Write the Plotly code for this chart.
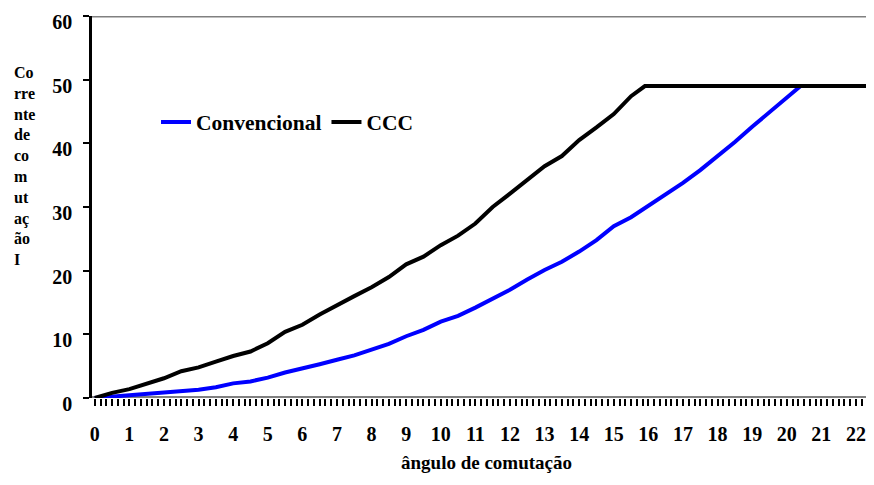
import plotly.graph_objects as go

# Data
x_conv = [0, 0.5, 1, 1.5, 2, 2.5, 3, 3.5, 4, 4.5, 5, 5.5, 6, 6.5, 7, 7.5, 8, 8.5, 9, 9.5,
          10, 10.5, 11, 11.5, 12, 12.5, 13, 13.5, 14, 14.5, 15, 15.5, 16, 16.5, 17, 17.5,
          18, 18.5, 19, 19.5, 20, 20.4, 21, 22, 22.4]
y_conv = [0, 0.2, 0.5, 0.7, 0.9, 1.0, 1.3, 1.7, 2.3, 2.6, 3.2, 4.0, 4.6, 5.3, 6.0, 6.7, 7.6, 8.5, 9.7, 10.7,
          12.0, 12.9, 14.2, 15.6, 17.0, 18.6, 20.1, 21.4, 23.0, 24.8, 27.0, 28.4, 30.2, 32.1, 33.8, 35.8,
          38.0, 40.2, 42.6, 44.9, 47.0, 49.0, 49.0, 49.0, 49.0]

x_ccc = [0, 0.5, 1, 1.5, 2, 2.5, 3, 3.5, 4, 4.5, 5, 5.5, 6, 6.5, 7, 7.5, 8, 8.5, 9, 9.5,
         10, 10.5, 11, 11.5, 12, 12.5, 13, 13.5, 14, 14.5, 15, 15.5, 15.9, 17, 18, 19, 20, 21, 22, 22.4]
y_ccc = [0, 0.8, 1.4, 2.3, 3.1, 4.2, 4.8, 5.7, 6.6, 7.3, 8.6, 10.4, 11.5, 13.1, 14.6, 16.0, 17.4, 19.0, 21.0, 22.2,
         24.0, 25.5, 27.4, 30.0, 32.1, 34.2, 36.4, 38.0, 40.5, 42.5, 44.6, 47.4, 49.0, 49.0, 49.0, 49.0, 49.0, 49.0, 49.0, 49.0]

x_ticks = list(range(0, 23))
y_ticks = [0, 10, 20, 30, 40, 50, 60]

y_title_lines = ["Co", "rre", "nte", "de", "co", "m", "ut", "aç", "ão", "I"]
x_title = "ângulo de comutação"

FONT = "Liberation Serif, Times New Roman, Times, serif"

fig = go.Figure()
fig.add_trace(go.Scatter(x=x_conv, y=y_conv, mode="lines", name="Convencional",
                         line=dict(color="#0000FF", width=4)))
fig.add_trace(go.Scatter(x=x_ccc, y=y_ccc, mode="lines", name="CCC",
                         line=dict(color="#000000", width=4)))

fig.update_layout(
    width=858, height=469,
    margin=dict(l=84, r=0, t=8, b=79, autoexpand=False),
    paper_bgcolor="white", plot_bgcolor="white",
    font=dict(family=FONT, size=16, color="black", weight="bold"),
    showlegend=True,
    legend=dict(orientation="h", x=0.0827, y=0.7225, xanchor="left", yanchor="middle",
                font=dict(family=FONT, size=21.5, color="black", weight="bold"),
                bgcolor="rgba(0,0,0,0)", itemwidth=30, tracegroupgap=0),
    xaxis=dict(range=[-0.08, 22.29], tickvals=x_ticks, ticktext=[str(v) for v in x_ticks],
               automargin=False,
               showgrid=False, zeroline=False, showline=False,
               ticks="outside", ticklen=7, tickwidth=1.5, tickcolor="black",
               minor=dict(dtick=1/6, tick0=0, ticks="outside", ticklen=7, tickwidth=1.5,
                          tickcolor="black", showgrid=False),
               ticklabelstandoff=11, ticklabeloverflow="allow",
               tickfont=dict(family=FONT, size=20, color="black", weight="bold")),
    yaxis=dict(range=[0, 60], tickvals=y_ticks, showgrid=False, zeroline=False,
               automargin=False,
               showline=True, linecolor="black", linewidth=2.5,
               ticks="outside", ticklen=6, tickwidth=2, tickcolor="black",
               ticklabelstandoff=7, ticklabelshift=6, ticklabeloverflow="allow",
               tickfont=dict(family=FONT, size=20, color="black", weight="bold")),
)

# gray plot-area border lines at top (60) and bottom (0)
fig.add_shape(type="line", xref="paper", yref="y", x0=0, x1=1, y0=60, y1=60,
              line=dict(color="#808080", width=3), layer="below")
fig.add_shape(type="line", xref="paper", yref="y", x0=0, x1=1, y0=0, y1=0,
              line=dict(color="#808080", width=4), layer="below")

fig.add_annotation(text="<br>".join(y_title_lines), xref="paper", yref="paper",
                   x=-0.104, y=0.88, xanchor="left", yanchor="top", align="left",
                   showarrow=False,
                   font=dict(family=FONT, size=16, color="black", weight="bold"))
fig.add_annotation(text=x_title, xref="paper", yref="paper",
                   x=0.51, y=-0.17, xanchor="center", yanchor="middle", showarrow=False,
                   font=dict(family=FONT, size=19, color="black", weight="bold"))

fig.write_html("out.html")
